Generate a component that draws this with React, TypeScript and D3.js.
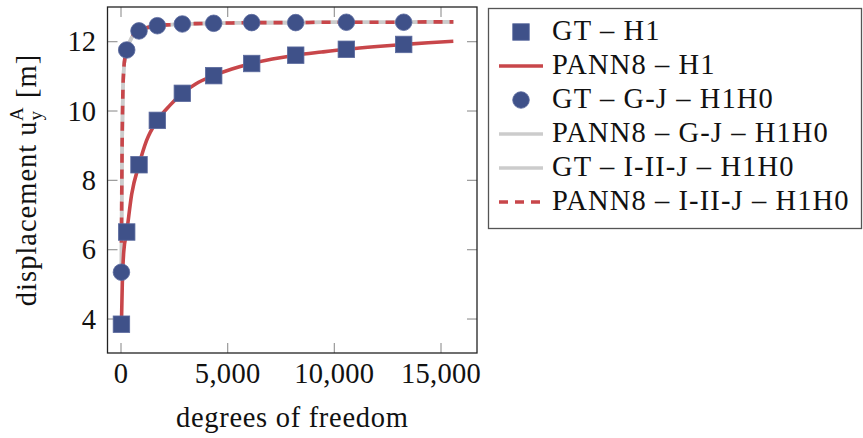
import React from "react";
import * as d3 from "d3";

// ---- data ----
const gtDofs = [20, 267, 844, 1703, 2875, 4344, 6125, 8188, 10563, 13250];
const gtH1 = [3.85, 6.51, 8.45, 9.73, 10.51, 11.02, 11.37, 11.61, 11.78, 11.92];
const gtGJ = [5.35, 11.76, 12.31, 12.46, 12.51, 12.53, 12.55, 12.55, 12.56, 12.56];

const pannH1Dofs = [20, 60, 130, 267, 500, 844, 1200, 1703, 2300, 2875, 3500, 4344, 5200, 6125, 7100, 8188, 9400, 10563, 12000, 13250, 14400, 15578];
const pannH1 = [3.85, 5.0, 5.95, 6.51, 7.6, 8.45, 9.15, 9.73, 10.17, 10.51, 10.78, 11.02, 11.21, 11.37, 11.5, 11.61, 11.7, 11.78, 11.86, 11.92, 11.97, 12.01];

const h1h0Dofs = [20, 40, 60, 90, 130, 190, 267, 500, 844, 1200, 1703, 2300, 2875, 3500, 4344, 5200, 6125, 7100, 8188, 9400, 10563, 12000, 13250, 14400, 15578];
const pannGJ = [5.35, 8.0, 9.4, 10.6, 11.2, 11.55, 11.76, 12.12, 12.31, 12.4, 12.46, 12.49, 12.51, 12.52, 12.53, 12.54, 12.55, 12.55, 12.55, 12.56, 12.56, 12.56, 12.56, 12.57, 12.57];
const gtIIIJ = [5.35, 8.0, 9.4, 10.6, 11.2, 11.55, 11.76, 12.12, 12.31, 12.4, 12.46, 12.49, 12.51, 12.52, 12.53, 12.54, 12.55, 12.55, 12.55, 12.56, 12.56, 12.56, 12.56, 12.57, 12.57];
const pannIIIJ = [6.2, 8.1, 9.45, 10.6, 11.2, 11.55, 11.76, 12.12, 12.31, 12.4, 12.46, 12.49, 12.51, 12.52, 12.53, 12.54, 12.55, 12.55, 12.55, 12.56, 12.56, 12.56, 12.56, 12.57, 12.57];

const xTicks = [0, 5000, 10000, 15000];
const yTicks = [4, 6, 8, 10, 12];
const legendLabels = [
  "GT \u2013 H1",
  "PANN8 \u2013 H1",
  "GT \u2013 G-J \u2013 H1H0",
  "PANN8 \u2013 G-J \u2013 H1H0",
  "GT \u2013 I-II-J \u2013 H1H0",
  "PANN8 \u2013 I-II-J \u2013 H1H0",
];

const BLUE = "#3f5189";
const RED = "#c8464a";
const GRAY = "#cccccc";
const FONT = "'Liberation Serif', 'Times New Roman', serif";

export default function App() {
  const W = 863, H = 438;
  const L = 107.5, R = 477, T = 7, B = 353;
  const x = d3.scaleLinear().domain([-633, 16687]).range([L, R]);
  const y = d3.scaleLinear().domain([3.02, 13.0]).range([B, T]);

  const line = (xs: number[], ys: number[]) =>
    d3
      .line<number>()
      .x((_, i) => x(xs[i]))
      .y((d) => y(d))
      .curve(d3.curveMonotoneX)(ys) || "";

  const sq = 16.5;
  const cr = 8.3;

  const legX = 488.5, legY = 8.5, legW = 373, legH = 220;
  const rowY = (i: number) => 32 + i * 34;
  const sampleX0 = 499, sampleX1 = 543, sampleXc = 521;
  const dash = "9 7";

  return (
    <svg width={W} height={H} style={{ position: "absolute", left: 0, top: 0, background: "#fff" }} fontFamily={FONT}>
      <defs>
        <clipPath id="plotclip">
          <rect x={L} y={T} width={R - L} height={B - T} />
        </clipPath>
      </defs>
      {/* ticks */}
      {xTicks.map((t) => (
        <g key={"xt" + t}>
          <line x1={x(t)} x2={x(t)} y1={B} y2={B - 10} stroke="#999" strokeWidth={1.2} />
          <line x1={x(t)} x2={x(t)} y1={T} y2={T + 10} stroke="#999" strokeWidth={1.2} />
          <text x={x(t)} y={383} fontSize={28.5} textAnchor="middle" fill="#111" letterSpacing={0.3}>
            {d3.format(",")(t)}
          </text>
        </g>
      ))}
      {yTicks.map((t) => (
        <g key={"yt" + t}>
          <line x1={L} x2={L + 10} y1={y(t)} y2={y(t)} stroke="#999" strokeWidth={1.2} />
          <line x1={R} x2={R - 10} y1={y(t)} y2={y(t)} stroke="#999" strokeWidth={1.2} />
          <text x={96} y={y(t)} dy="0.34em" fontSize={28.5} textAnchor="end" fill="#111">
            {t}
          </text>
        </g>
      ))}
      <g clipPath="url(#plotclip)">
        <path d={line(h1h0Dofs, pannGJ)} fill="none" stroke={GRAY} strokeWidth={3.6} />
        <path d={line(h1h0Dofs, gtIIIJ)} fill="none" stroke={GRAY} strokeWidth={3.6} />
        <path d={line(h1h0Dofs, pannIIIJ)} fill="none" stroke={RED} strokeWidth={3.6} strokeDasharray={dash} />
        <path d={line(pannH1Dofs, pannH1)} fill="none" stroke={RED} strokeWidth={3.6} />
        {gtDofs.map((d, i) => (
          <rect key={"s" + i} x={x(d) - sq / 2} y={y(gtH1[i]) - sq / 2} width={sq} height={sq} fill={BLUE} stroke="#5b6a9e" strokeWidth={0.8} />
        ))}
        {gtDofs.map((d, i) => (
          <circle key={"c" + i} cx={x(d)} cy={y(gtGJ[i])} r={cr} fill={BLUE} stroke="#5b6a9e" strokeWidth={0.8} />
        ))}
      </g>
      <rect x={L} y={T} width={R - L} height={B - T} fill="none" stroke="#222" strokeWidth={1.3} />
      {/* axis labels */}
      <text x={(L + R) / 2} y={427} fontSize={28.5} textAnchor="middle" fill="#111" letterSpacing={0.7}>
        degrees of freedom
      </text>
      <text transform={`translate(35.5,${(T + B) / 2}) rotate(-90)`} fontSize={28.5} textAnchor="middle" fill="#111" letterSpacing={1}>
        displacement u
        <tspan fontSize={19} dy={6}>y</tspan>
        <tspan fontSize={19} dx={-11} dy={-19}>A</tspan>
        <tspan dy={13}> [m]</tspan>
      </text>
      {/* legend */}
      <rect x={legX} y={legY} width={legW} height={legH} fill="#fff" stroke="#555" strokeWidth={1.3} />
      <rect x={sampleXc - sq / 2} y={rowY(0) - sq / 2} width={sq} height={sq} fill={BLUE} stroke="#5b6a9e" strokeWidth={0.8} />
      <line x1={sampleX0} x2={sampleX1} y1={rowY(1)} y2={rowY(1)} stroke={RED} strokeWidth={3.6} />
      <circle cx={sampleXc} cy={rowY(2)} r={cr} fill={BLUE} stroke="#5b6a9e" strokeWidth={0.8} />
      <line x1={sampleX0} x2={sampleX1} y1={rowY(3)} y2={rowY(3)} stroke={GRAY} strokeWidth={3.6} />
      <line x1={sampleX0} x2={sampleX1} y1={rowY(4)} y2={rowY(4)} stroke={GRAY} strokeWidth={3.6} />
      <line x1={sampleX0} x2={sampleX1} y1={rowY(5)} y2={rowY(5)} stroke={RED} strokeWidth={3.6} strokeDasharray={dash} />
      {legendLabels.map((lab, i) => (
        <text key={lab} x={552} y={rowY(i) + 8} fontSize={28.5} fill="#111" letterSpacing={1.1}>
          {lab}
        </text>
      ))}
    </svg>
  );
}
